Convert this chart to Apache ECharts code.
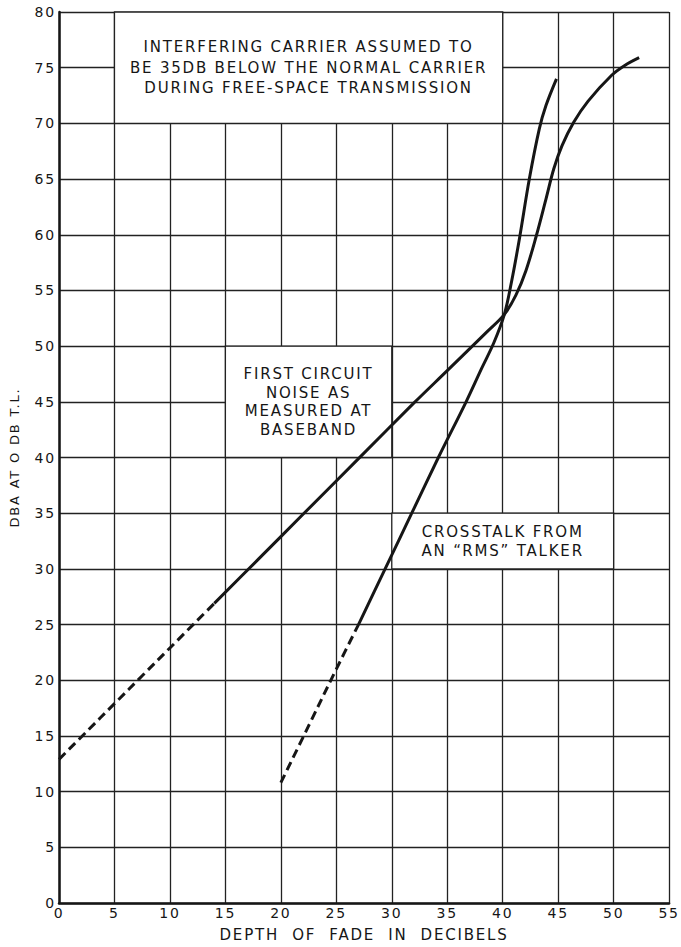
<!DOCTYPE html>
<html>
<head>
<meta charset="utf-8">
<script src="https://cdn.jsdelivr.net/npm/echarts@6/dist/echarts.min.js"></script>
<style>
  html, body { margin: 0; padding: 0; background: #fff; }
  #chart { width: 681px; height: 947px; }
  #chart text { letter-spacing: 1.8px; }
</style>
</head>
<body>
<div id="chart"></div>
<script>
// First circuit noise as measured at baseband
const noiseDashed = [[0,12.9],[2.5,15.4],[5,17.9],[7.5,20.4],[10,22.9],[14,26.9]];
const noiseSolid = [[14,26.9],[18,30.9],[22,34.9],[27,39.9],[32,44.9],[35,47.8],[38.6,51.3],[40.15,52.85],[41.2,54.6],[42.1,56.8],[43.0,59.8],[43.9,63.2],[44.6,65.9],[45.35,68.0],[46.4,70.1],[47.7,72.0],[49.8,74.3],[51,75.2],[52.3,75.9]];
// Crosstalk from an "RMS" talker
const crossDashed = [[20,10.8],[22.5,15.9],[25,21.0],[27,25.0]];
const crossSolid = [[27,25.0],[29.4,30],[31.8,35],[34.2,40],[36.7,45],[38.1,48],[39.2,50.3],[40.15,52.85],[40.8,55.8],[41.5,59.6],[42.4,65.0],[43.3,69.5],[43.9,71.6],[44.85,74.0]];

// Annotation boxes: [x0, y0, x1, y1] in data units, with their text
const boxExtents = [[5,70,40,80],[15,40,30,50],[30,30,50,35]];
const boxTexts = [
  'INTERFERING CARRIER ASSUMED TO\nBE 35DB BELOW THE NORMAL CARRIER\nDURING FREE-SPACE TRANSMISSION',
  'FIRST CIRCUIT\nNOISE AS\nMEASURED AT\nBASEBAND',
  'CROSSTALK FROM\nAN \u201CRMS\u201D TALKER'
];
const boxFontSizes = [15, 15, 15];
const boxLineHeights = [20.5, 18.5, 19];

const xAxisName = 'DEPTH  OF  FADE  IN  DECIBELS';
const yAxisName = 'DBA AT O DB T.L.';

const FONT = 'DejaVu Sans';
const INK = '#161616';

const chart = echarts.init(document.getElementById('chart'), null, { renderer: 'svg' });

const markData = boxExtents.map((b, i) => ([
  { coord: [b[0], b[1]],
    label: { show: true, position: 'inside', formatter: boxTexts[i], fontFamily: FONT,
             fontSize: boxFontSizes[i], lineHeight: boxLineHeights[i], color: INK, align: 'center' } },
  { coord: [b[2], b[3]] }
]));

const lineSeries = (data, dashed) => ({
  type: 'line',
  data: data,
  symbol: 'none',
  smooth: 0.35,
  z: 3,
  silent: true,
  lineStyle: { color: INK, width: 3, type: dashed ? [9, 5] : 'solid', cap: 'butt' }
});

chart.setOption({
  animation: false,
  backgroundColor: '#fff',
  grid: { left: 56, right: 7, top: 12, bottom: 43, containLabel: false },
  xAxis: {
    type: 'value', min: 0, max: 55, interval: 5,
    name: xAxisName, nameLocation: 'middle', nameGap: 24,
    nameTextStyle: { fontFamily: FONT, fontSize: 15, color: INK },
    axisLine: { show: true, onZero: false, lineStyle: { color: INK, width: 2.5 } },
    axisTick: { show: false },
    axisLabel: { fontFamily: FONT, fontSize: 14, color: INK, margin: 3 },
    splitLine: { show: true, lineStyle: { color: '#222', width: 1.3 } }
  },
  yAxis: {
    type: 'value', min: 0, max: 80, interval: 5,
    name: yAxisName, nameLocation: 'middle', nameGap: 38,
    nameTextStyle: { fontFamily: FONT, fontSize: 13, color: INK },
    axisLine: { show: true, onZero: false, lineStyle: { color: INK, width: 2.5 } },
    axisTick: { show: false },
    axisLabel: { fontFamily: FONT, fontSize: 14, color: INK, margin: 3 },
    splitLine: { show: true, lineStyle: { color: '#222', width: 1.3 } }
  },
  series: [
    {
      type: 'line', data: [], silent: true, z: 1,
      markArea: {
        silent: true,
        itemStyle: { color: '#fff', opacity: 1, borderColor: '#222', borderWidth: 1.3 },
        emphasis: { disabled: true },
        data: markData
      }
    },
    lineSeries(noiseDashed, true),
    lineSeries(noiseSolid, false),
    lineSeries(crossDashed, true),
    lineSeries(crossSolid, false)
  ]
});
</script>
</body>
</html>
